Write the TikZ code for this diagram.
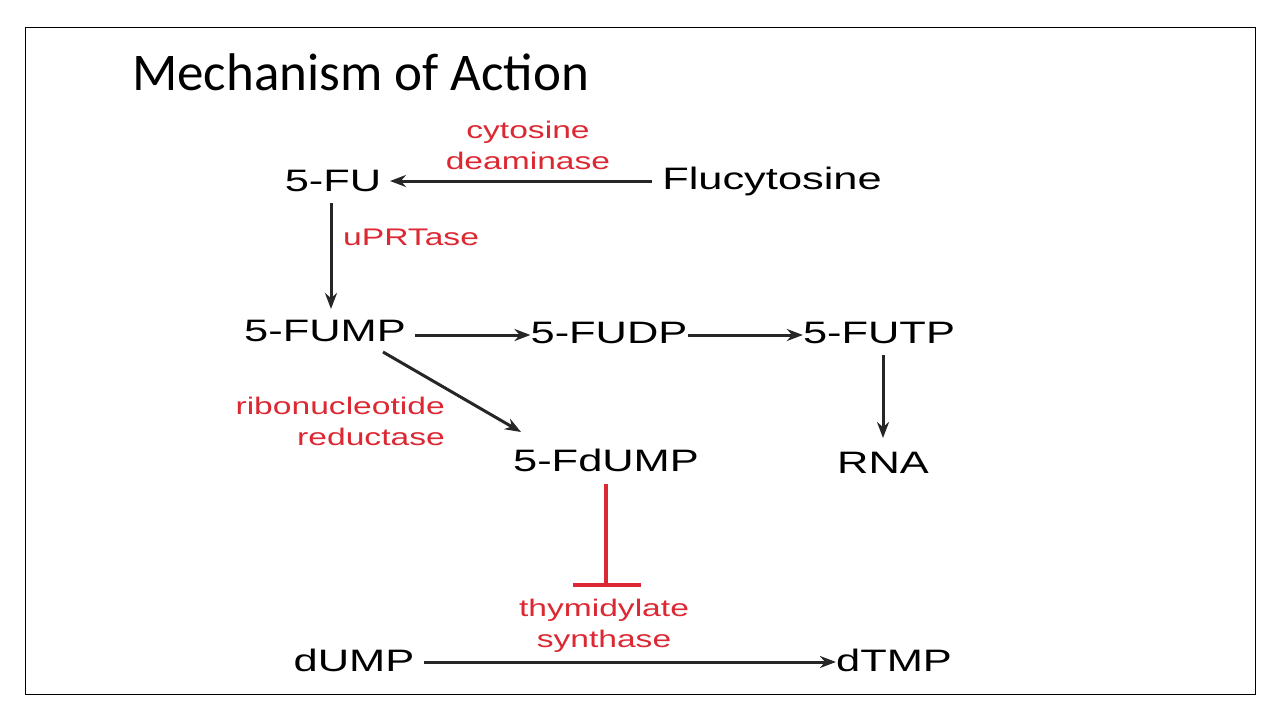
\documentclass[tikz,border=0pt]{standalone}
\usepackage{fontspec}
\setmainfont[FakeStretch=1.4]{Liberation Sans}
\newfontfamily\titlefont{Carlito}
\usetikzlibrary{positioning,arrows.meta}
\definecolor{enzred}{RGB}{220,40,50}
\begin{document}
\begin{tikzpicture}[
  x=1pt, y=-1pt,
  mol/.style={inner sep=0pt, font=\fontsize{31}{34}\selectfont},
  enz/.style={inner sep=0pt, text=enzred, align=center, font=\fontsize{24}{31}\selectfont},
  arrow/.style={-{Stealth[length=16pt,width=12pt]}, line width=3pt, black!85}
]
\useasboundingbox (0,0) rectangle (1280,720);
\draw[line width=1pt] (25,27) rectangle (1255,694);

% Title
\node[anchor=base west, inner sep=0pt, font=\titlefont\fontsize{53}{55}\selectfont] (title) at (132,90) {Mechanism of Action};

% Molecules
\node[mol] (fu) at (333,181) {5-FU};
\node[mol] (flu) at (772,181) {Flucytosine};
\node[mol] (fump) at (325,331) {5-FUMP};
\node[mol] (fudp) at (609,333) {5-FUDP};
\node[mol] (futp) at (879,333) {5-FUTP};
\node[mol] (rna) at (883,463) {RNA};
\node[mol] (fdump) at (606,460) {5-FdUMP};
\node[mol] (dump) at (354,660) {dUMP};
\node[mol] (dtmp) at (894,660) {dTMP};

% Enzymes
\node[enz] (cda) at (528,145) {cytosine\\deaminase};
\node[enz, anchor=west] (uprt) at (343,237) {uPRTase};
\node[enz, align=right, anchor=east] (rnr) at (445,421) {ribonucleotide\\reductase};
\node[enz] (tys) at (604,626) {thymidylate\\synthase};

% Arrows
\draw[arrow] (flu.west) ++(-10,0) -- (fu.east -| 390,0);
\draw[arrow] (331,203) -- (331,309);
\draw[arrow] (415,335) -- (fudp.west |- 0,335);
\draw[arrow] (fudp.east |- 0,335) -- (futp.west |- 0,335);
\draw[arrow] (883,355) -- (883,438);
\draw[arrow] (383,352) -- (521,432);
\draw[arrow] (dump.east) ++(10,2) -- (dtmp.west |- 0,662);

% Inhibition
\coordinate (bar) at (606,585);
\draw[enzred, line width=3.5pt] (fdump.south) ++(0,12) -- (bar);
\draw[enzred, line width=3.5pt] (573,585) -- (641,585);
\end{tikzpicture}
\end{document}
